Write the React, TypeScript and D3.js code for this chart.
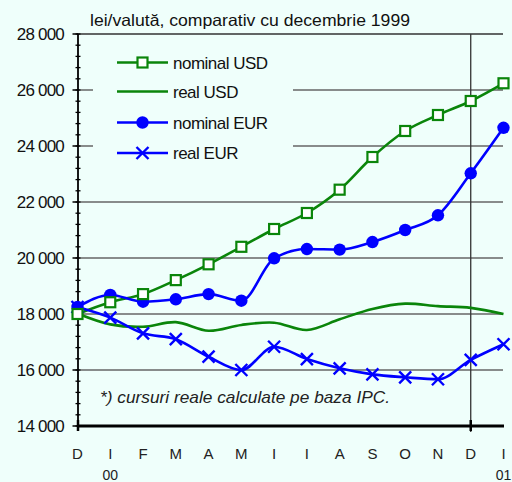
import React from "react";
import * as d3 from "d3";

const months = ["D", "I", "F", "M", "A", "M", "I", "I", "A", "S", "O", "N", "D", "I"];
const yearLabels = [
  { idx: 1, text: "00" },
  { idx: 13, text: "01" },
];
const yTicks = [14000, 16000, 18000, 20000, 22000, 24000, 26000, 28000];

const nominalUSD = [18000, 18420, 18710, 19210, 19775, 20400, 21036, 21607, 22440, 23607, 24536, 25107, 25607, 26240];
const realUSD = [18020, 17630, 17545, 17710, 17400, 17610, 17690, 17430, 17810, 18180, 18370, 18280, 18220, 18000];
const nominalEUR = [18250, 18680, 18440, 18525, 18710, 18475, 19990, 20320, 20300, 20570, 21000, 21525, 23025, 24650];
const realEUR = [18250, 17870, 17310, 17100, 16475, 16000, 16830, 16390, 16060, 15845, 15740, 15670, 16360, 16920];

const legendItems = [
  { label: "nominal USD", color: "#0a850a", marker: "square" },
  { label: "real USD", color: "#0a850a", marker: "none" },
  { label: "nominal EUR", color: "#0000ff", marker: "circle" },
  { label: "real EUR", color: "#0000ff", marker: "x" },
];

const BG = "#effffb";
const GREEN = "#0a850a";
const BLUE = "#0000ff";
const FONT = "'Liberation Sans', Arial, sans-serif";

export default function App() {
  const W = 512, H = 482;
  const x = d3.scaleLinear().domain([0, 13]).range([77.5, 503.5]);
  const y = d3.scaleLinear().domain([14000, 28000]).range([426, 34]);
  const lineSmooth = d3.line<number>().x((_, i) => x(i)).y((v) => y(v)).curve(d3.curveCatmullRom.alpha(0.5));
  const lineMono = d3.line<number>().x((_, i) => x(i)).y((v) => y(v)).curve(d3.curveMonotoneX);
  const minor = d3.range(14000, 28001, 400);

  const square = (cx: number, cy: number, k: string) => (
    <rect key={k} x={cx - 5} y={cy - 5} width={10} height={10} fill="#fff" stroke={GREEN} strokeWidth={2.2} />
  );
  const circle = (cx: number, cy: number, k: string) => <circle key={k} cx={cx} cy={cy} r={6.2} fill={BLUE} />;
  const cross = (cx: number, cy: number, k: string) => (
    <path key={k} d={`M${cx - 6},${cy - 6}L${cx + 6},${cy + 6}M${cx - 6},${cy + 6}L${cx + 6},${cy - 6}`} stroke={BLUE} strokeWidth={2.4} />
  );

  const lx0 = 117, lx1 = 168, ly = [62.5, 91.5, 122.5, 153];

  return (
    <svg width={W} height={H} style={{ position: "absolute", left: 0, top: 0, background: BG }} fontFamily={FONT}>
      <rect x={0} y={0} width={W} height={H} fill={BG} />
      {/* gridlines */}
      {yTicks.filter((t) => t > 14000 && t < 28000).map((t) => (
        <line key={t} x1={77} x2={503} y1={y(t)} y2={y(t)} stroke="#666" strokeWidth={1.5} />
      ))}
      <line x1={77} x2={503} y1={y(28000)} y2={y(28000)} stroke="#333" strokeWidth={1.5} />
      {/* legend background */}
      <rect x={93} y={42} width={200} height={128} fill={BG} />
      {/* vertical Dec line */}
      <line x1={x(12)} x2={x(12)} y1={34} y2={432} stroke="#333" strokeWidth={1.3} />
      {/* y axis */}
      <line x1={78} x2={78} y1={34} y2={427} stroke="#000" strokeWidth={1.8} />
      {minor.map((t) => (
        <line key={t} x1={75.5} x2={80.5} y1={y(t)} y2={y(t)} stroke="#000" strokeWidth={1.3} />
      ))}
      {yTicks.map((t) => (
        <g key={t}>
          <line x1={72.5} x2={78} y1={y(t)} y2={y(t)} stroke="#000" strokeWidth={1.5} />
          <text x={64} y={y(t) + 6} textAnchor="end" fontSize={17} fill="#111" letterSpacing={-0.8}>
            {d3.format(",")(t).replace(",", " ")}
          </text>
        </g>
      ))}
      {/* x axis */}
      <line x1={77} x2={504} y1={426} y2={426} stroke="#000" strokeWidth={3} />
      <line x1={x(12)} x2={x(12)} y1={420} y2={431} stroke="#000" strokeWidth={2.5} />
      <line x1={78} x2={78} y1={420} y2={431} stroke="#000" strokeWidth={2.5} />
      {months.map((m, i) => (
        <text key={i} x={x(i)} y={459} textAnchor="middle" fontSize={15} fill="#222">
          {m}
        </text>
      ))}
      {yearLabels.map((d) => (
        <text key={d.text} x={x(d.idx)} y={480} textAnchor="middle" fontSize={14} fill="#222">
          {d.text}
        </text>
      ))}
      {/* title */}
      <text x={90} y={26} fontSize={16.5} fill="#111" textLength={320} lengthAdjust="spacingAndGlyphs">
        lei/valută, comparativ cu decembrie 1999
      </text>
      {/* footnote */}
      <text x={100} y={403} fontSize={17} fontStyle="italic" fill="#222" textLength={290} lengthAdjust="spacingAndGlyphs">
        *) cursuri reale calculate pe baza IPC.
      </text>
      {/* series */}
      <path d={lineSmooth(realUSD) || ""} fill="none" stroke={GREEN} strokeWidth={2.6} />
      <path d={lineMono(nominalUSD) || ""} fill="none" stroke={GREEN} strokeWidth={2.6} />
      <path d={lineMono(realEUR) || ""} fill="none" stroke={BLUE} strokeWidth={2.6} />
      <path d={lineMono(nominalEUR) || ""} fill="none" stroke={BLUE} strokeWidth={2.6} />
      {realEUR.map((v, i) => cross(x(i), y(v), "x" + i))}
      {nominalEUR.map((v, i) => circle(x(i), y(v), "c" + i))}
      {nominalUSD.map((v, i) => square(x(i), y(v), "s" + i))}
      {/* legend */}
      {legendItems.map((it, i) => (
        <g key={it.label}>
          <line x1={lx0} x2={lx1} y1={ly[i]} y2={ly[i]} stroke={it.color} strokeWidth={2.6} />
          {it.marker === "square" && square((lx0 + lx1) / 2, ly[i], "ls")}
          {it.marker === "circle" && circle((lx0 + lx1) / 2, ly[i], "lc")}
          {it.marker === "x" && cross((lx0 + lx1) / 2, ly[i], "lx")}
          <text x={173} y={ly[i] + 6} fontSize={17} fill="#111" letterSpacing={-0.5}>
            {it.label}
          </text>
        </g>
      ))}
    </svg>
  );
}
